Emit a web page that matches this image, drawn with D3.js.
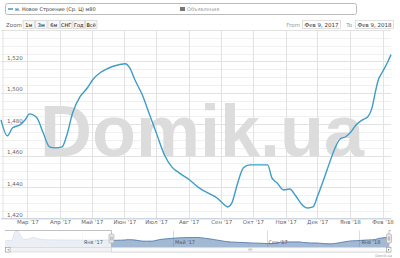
<!DOCTYPE html>
<html>
<head>
<meta charset="utf-8">
<script src="https://cdn.jsdelivr.net/npm/d3@7"></script>
<style>
  body { margin: 0; background: #fff; }
  svg { display: block; font-family: "DejaVu Sans", Verdana, sans-serif; }
</style>
</head>
<body>
<div id="chart"></div>
<script>
// main series
var dates = ["2017-02-04","2017-02-10","2017-02-15","2017-02-22","2017-02-27","2017-03-03","2017-03-10",
  "2017-03-16","2017-03-22","2017-03-27","2017-04-03","2017-04-07","2017-04-13","2017-04-20","2017-04-27",
  "2017-05-02","2017-05-09","2017-05-14","2017-05-20","2017-05-27","2017-06-02","2017-06-06","2017-06-11",
  "2017-06-18","2017-06-25","2017-07-02","2017-07-09","2017-07-16","2017-07-23","2017-08-02","2017-08-11",
  "2017-08-21","2017-08-28","2017-09-03","2017-09-07","2017-09-11","2017-09-16","2017-09-22","2017-09-28",
  "2017-10-07","2017-10-15","2017-10-19","2017-10-24","2017-10-30","2017-11-05","2017-11-10","2017-11-16",
  "2017-11-22","2017-11-27","2017-12-01","2017-12-07","2017-12-13","2017-12-18","2017-12-23","2017-12-28",
  "2018-01-02","2018-01-07","2018-01-13","2018-01-18","2018-01-22","2018-01-25","2018-01-28","2018-02-01",
  "2018-02-06","2018-02-09"];
var prices = [1482.8,1472.6,1477.7,1479.6,1482.8,1486.6,1484.1,
  1474.5,1465.6,1464.9,1465.6,1472.0,1487.3,1497.5,1503.2,
  1508.3,1512.8,1514.7,1516.6,1517.9,1518.5,1516.0,1508.3,
  1498.7,1486.0,1473.2,1460.5,1452.8,1449.0,1444.5,1439.4,
  1435.6,1433.0,1429.2,1427.3,1429.8,1441.3,1452.2,1454.1,
  1454.1,1454.1,1445.8,1442.6,1438.1,1438.7,1434.9,1429.2,
  1426.6,1427.3,1433.6,1444.5,1456.0,1465.0,1470.7,1472.0,
  1475.1,1479.6,1482.8,1484.7,1490.4,1500.0,1508.3,1513.4,
  1519.8,1524.3];

// earlier history only visible in the navigator
var navDates = ["2016-09-22","2016-10-01","2016-10-05","2016-10-08","2016-10-12","2016-10-16","2016-10-23",
  "2016-10-29","2016-11-03","2016-11-14","2016-12-01","2017-01-01","2017-02-01"];
var navPrices = [1470,1475,1600,1615,1560,1490,1495,1520,1505,1485,1482,1480,1481];

var yTicks = [1420, 1440, 1460, 1480, 1500, 1520];
var monthNames = ["Янв","Фев","Мар","Апр","Май","Июн","Июл","Авг","Сен","Окт","Ноя","Дек"];
var zoomButtons = ["1м","3м","6м","СНГ","Год","Всё"];
var seriesName = "м. Новое Строение (Ср. Ц) м80";
var otherName = "Объявления";
var fromText = "Фев 9, 2017";
var toText = "Фев 9, 2018";

var parse = d3.timeParse("%Y-%m-%d");
var mainData = dates.map(function (d, i) { return { date: parse(d), value: prices[i] }; });
var navData = navDates.map(function (d, i) { return { date: parse(d), value: navPrices[i] }; }).concat(mainData);

var width = 400, height = 258;
var lineColor = "#3d9dc6";
var plot = { left: 1, right: 391, top: 30, bottom: 218.4 };

var svg = d3.select("#chart").append("svg")
  .attr("width", width)
  .attr("height", height);

var fmt = function (d) { return monthNames[d.getMonth()] + " '" + String(d.getFullYear()).slice(2); };

// scales
var x = d3.scaleTime()
  .domain([parse("2017-02-04"), parse("2018-02-09")])
  .range([plot.left, plot.right]);
var y = d3.scaleLinear()
  .domain([1420, 1540])
  .range([plot.bottom, plot.top]);

// top legend box
svg.append("rect")
  .attr("x", 5.5).attr("y", 3.5).attr("width", 351).attr("height", 11)
  .attr("rx", 2)
  .attr("fill", "#fff").attr("stroke", "#bbb");
svg.append("line")
  .attr("x1", 8).attr("x2", 13).attr("y1", 9).attr("y2", 9)
  .attr("stroke", lineColor).attr("stroke-width", 1.5);
svg.append("text")
  .attr("x", 15).attr("y", 11)
  .attr("font-size", "5px").attr("fill", "#333")
  .text(seriesName);
svg.append("rect")
  .attr("x", 180).attr("y", 7).attr("width", 5).attr("height", 4)
  .attr("fill", "#777");
svg.append("text")
  .attr("x", 187).attr("y", 11)
  .attr("font-size", "5px").attr("fill", "#999")
  .text(otherName);

// range selector
svg.append("text")
  .attr("x", 6).attr("y", 26.5)
  .attr("font-size", "5.5px").attr("fill", "#666")
  .text("Zoom");
var btn = svg.append("g").selectAll("g")
  .data(zoomButtons)
  .enter()
  .append("g")
  .attr("transform", function (d, i) { return "translate(" + (23 + i * 12.5) + ",20.5)"; });
btn.append("rect")
  .attr("width", 11.5).attr("height", 8)
  .attr("fill", "#f7f7f7").attr("stroke", "#ccc").attr("stroke-width", 0.6);
btn.append("text")
  .attr("x", 5.75).attr("y", 6)
  .attr("text-anchor", "middle")
  .attr("font-size", "5px").attr("fill", "#000")
  .text(function (d) { return d; });

// from / to inputs
svg.append("text")
  .attr("x", 300).attr("y", 26.5).attr("text-anchor", "end")
  .attr("font-size", "5.5px").attr("fill", "#999")
  .text("From");
svg.append("text")
  .attr("x", 352).attr("y", 26.5).attr("text-anchor", "end")
  .attr("font-size", "5.5px").attr("fill", "#999")
  .text("To");
[[302, fromText], [355, toText]].forEach(function (b) {
  svg.append("rect")
    .attr("x", b[0] + 0.5).attr("y", 20.5).attr("width", 38).attr("height", 8)
    .attr("fill", "#fff").attr("stroke", "#ccc").attr("stroke-width", 0.6);
  svg.append("text")
    .attr("x", b[0] + 19.5).attr("y", 26.5).attr("text-anchor", "middle")
    .attr("font-size", "5.5px").attr("fill", "#333")
    .text(b[1]);
});

// gridlines
var chartGroup = svg.append("g");
chartGroup.append("g")
  .selectAll("line")
  .data(d3.range(1420, 1541, 5))
  .enter()
  .append("line")
  .attr("x1", plot.left).attr("x2", plot.right)
  .attr("y1", function (d) { return Math.round(y(d)) + 0.5; })
  .attr("y2", function (d) { return Math.round(y(d)) + 0.5; })
  .attr("stroke", function (d) { return d % 20 === 0 ? "#e2e2e2" : "#f0f0f0"; })
  .attr("stroke-width", 1);
chartGroup.append("g")
  .selectAll("line")
  .data(x.ticks(d3.timeMonth.every(1)))
  .enter()
  .append("line")
  .attr("x1", function (d) { return Math.round(x(d)) + 0.5; })
  .attr("x2", function (d) { return Math.round(x(d)) + 0.5; })
  .attr("y1", plot.top).attr("y2", plot.bottom)
  .attr("stroke", "#e2e2e2");
chartGroup.append("line")
  .attr("x1", plot.left + 2).attr("x2", plot.left + 2)
  .attr("y1", plot.top).attr("y2", plot.bottom)
  .attr("stroke", "#e2e2e2");

// watermark
chartGroup.append("text")
  .attr("x", 202).attr("y", 156)
  .attr("text-anchor", "middle")
  .attr("font-family", "'Liberation Sans', Arial, sans-serif")
  .attr("font-weight", "bold")
  .attr("font-size", "72px")
  .attr("fill", "#dcdcdc")
  .text("Domik.ua");

// y labels inside plot
chartGroup.append("g")
  .selectAll("text")
  .data(yTicks)
  .enter()
  .append("text")
  .attr("x", 7).attr("y", function (d) { return y(d) - 1.5; })
  .attr("font-size", "5.5px").attr("fill", "#666")
  .text(function (d) { return d3.format(",")(d); });

// x axis
var bottomAxis = d3.axisBottom(x)
  .ticks(d3.timeMonth.every(1))
  .tickFormat(fmt)
  .tickSize(0)
  .tickPadding(2);
var xAxis = chartGroup.append("g")
  .attr("transform", "translate(0," + plot.bottom + ")")
  .call(bottomAxis);
xAxis.select(".domain").attr("stroke", "#c0d0e0");
xAxis.selectAll("text")
  .attr("font-size", "5.5px").attr("fill", "#666")
  .attr("font-family", "'DejaVu Sans', Verdana, sans-serif");

// main line
var line = d3.line()
  .x(function (d) { return x(d.date); })
  .y(function (d) { return y(d.value); })
  .curve(d3.curveMonotoneX);
chartGroup.append("path")
  .datum(mainData)
  .attr("d", line)
  .attr("fill", "none")
  .attr("stroke", lineColor)
  .attr("stroke-width", 1.4);

// navigator
var nav = { left: 5, right: 389, top: 230.5, bottom: 247 };
var nx = d3.scaleTime()
  .domain([parse("2016-09-22"), parse("2018-02-09")])
  .range([nav.left, nav.right]);
var ny = d3.scaleLinear()
  .domain([1380, 1620])
  .range([nav.bottom, nav.top]);
var navGroup = svg.append("g");
navGroup.append("rect")
  .attr("x", nav.left).attr("y", nav.top).attr("width", 386).attr("height", nav.bottom - nav.top)
  .attr("fill", "#fff");
navGroup.append("g")
  .selectAll("line")
  .data(nx.ticks(d3.timeMonth.every(4)))
  .enter()
  .append("line")
  .attr("x1", function (d) { return Math.round(nx(d)) + 0.5; })
  .attr("x2", function (d) { return Math.round(nx(d)) + 0.5; })
  .attr("y1", nav.top).attr("y2", nav.bottom)
  .attr("stroke", "#dcdcdc");
var area = d3.area()
  .x(function (d) { return nx(d.date); })
  .y0(nav.bottom)
  .y1(function (d) { return ny(d.value); })
  .curve(d3.curveMonotoneX);
navGroup.append("path")
  .datum(navData)
  .attr("d", area)
  .attr("fill", "#4572a7").attr("fill-opacity", 0.5);
navGroup.append("path")
  .datum(navData)
  .attr("d", area.lineY1())
  .attr("fill", "none").attr("stroke", "#4572a7").attr("stroke-width", 0.8);
var selLeft = nx(parse("2017-02-09"));
navGroup.append("rect")
  .attr("x", nav.left).attr("y", nav.top).attr("width", selLeft - nav.left).attr("height", nav.bottom - nav.top)
  .attr("fill", "#fff").attr("fill-opacity", 0.78);
navGroup.append("g")
  .selectAll("text")
  .data(nx.ticks(d3.timeMonth.every(4)))
  .enter()
  .append("text")
  .attr("x", function (d) { return nx(d) + 2; })
  .attr("y", 244)
  .attr("font-size", "5px").attr("fill", "#555")
  .text(fmt);
// outline
navGroup.append("path")
  .attr("d", "M" + nav.left + "," + nav.top + "H" + selLeft + "V" + nav.bottom +
    "M" + nav.right + "," + nav.bottom + "V" + nav.top + "H391")
  .attr("fill", "none").attr("stroke", "#b2b1b6").attr("stroke-width", 0.8);
// handles
[selLeft, nav.right].forEach(function (hx) {
  navGroup.append("rect")
    .attr("x", hx - 2.5).attr("y", 234).attr("width", 5).attr("height", 9).attr("rx", 1)
    .attr("fill", "#ebe7e8").attr("stroke", "#aaa").attr("stroke-width", 0.6);
  navGroup.append("path")
    .attr("d", "M" + (hx - 0.7) + ",236.5V240.5M" + (hx + 0.7) + ",236.5V240.5")
    .attr("stroke", "#666").attr("stroke-width", 0.4);
});
// scrollbar
var sb = { top: 247.5, h: 4.5 };
navGroup.append("rect")
  .attr("x", nav.left + 0.5).attr("y", sb.top).attr("width", 385).attr("height", sb.h)
  .attr("fill", "#f2f2f2").attr("stroke", "#ccc").attr("stroke-width", 0.6);
navGroup.append("rect")
  .attr("x", selLeft).attr("y", sb.top).attr("width", nav.right - selLeft).attr("height", sb.h)
  .attr("fill", "#fafafa").attr("stroke", "#ccc").attr("stroke-width", 0.6);
navGroup.append("path")
  .attr("d", "M" + ((selLeft + nav.right) / 2 - 2) + "," + (sb.top + 1.5) + "h4M" +
    ((selLeft + nav.right) / 2 - 2) + "," + (sb.top + 2.5) + "h4")
  .attr("stroke", "#888").attr("stroke-width", 0.4);
[nav.left + 0.5, 386.5].forEach(function (bx) {
  navGroup.append("rect")
    .attr("x", bx).attr("y", sb.top).attr("width", sb.h).attr("height", sb.h)
    .attr("fill", "#fff").attr("stroke", "#999").attr("stroke-width", 0.6);
});
navGroup.append("path")
  .attr("d", "M" + 8.5 + "," + (sb.top + 1.3) + "l-1,1l1,1Z M" + 388.2 + "," + (sb.top + 1.3) + "l1,1l-1,1Z")
  .attr("fill", "#444");

// credits
svg.append("text")
  .attr("x", 392).attr("y", 256.5).attr("text-anchor", "end")
  .attr("font-size", "3.5px").attr("fill", "#999")
  .text("Domik.ua");
</script>
</body>
</html>
